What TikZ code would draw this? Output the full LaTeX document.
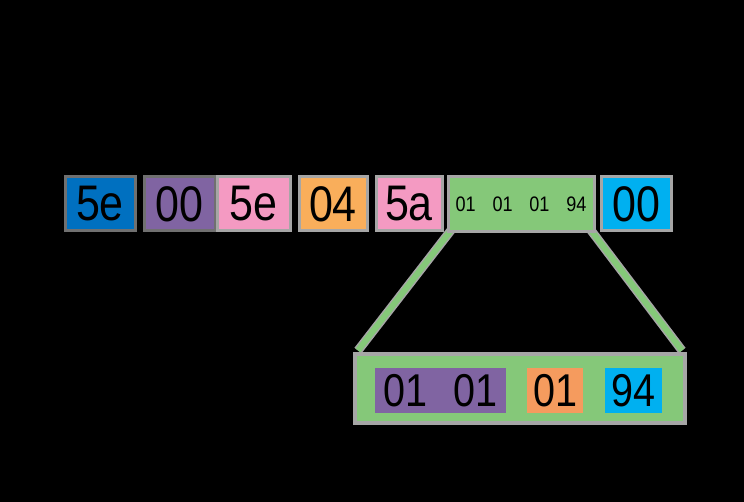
\documentclass[tikz,border=0pt]{standalone}
\usepackage{fontspec}
\setmainfont[FakeStretch=0.86]{Liberation Sans}
\usetikzlibrary{calc}
\definecolor{byteblue}{HTML}{0070C0}
\definecolor{bytepurple}{HTML}{8064A2}
\definecolor{bytepink}{HTML}{F49AC2}
\definecolor{byteorange}{HTML}{F9AE5B}
\definecolor{bytegreen}{HTML}{85C879}
\definecolor{bytecyan}{HTML}{00B0F0}
\definecolor{byteorangedark}{HTML}{F59B5E}
\definecolor{edgegray}{HTML}{A6A6A6}
\definecolor{edgedark}{HTML}{707070}
\begin{document}
\begin{tikzpicture}[x=1pt,y=-1pt,
    bytebox/.style={draw=edgegray,line width=3pt,inner sep=0pt,minimum height=54pt,
      font=\fontsize{50}{50}\selectfont},
    subbox/.style={inner sep=0pt,minimum height=45pt,font=\fontsize{46}{46}\selectfont},
    zoomline/.style={line width=9pt,edgegray},
    zoomfill/.style={line width=6pt,bytegreen}]
  \fill[black] (0,0) rectangle (744,502);
  \useasboundingbox (0,0) rectangle (744,502);
  % bottom frame
  \node[draw=edgegray,line width=4pt,fill=bytegreen,minimum width=330pt,minimum height=68pt,inner sep=0pt] (frame) at (520,388.5) {};
  \node[subbox,fill=bytepurple,minimum width=131pt] (s1) at (440.5,390.5) {01\hspace{0.55em}01};
  \node[subbox,fill=byteorangedark,minimum width=56pt] (s2) at (555,390.5) {01};
  \node[subbox,fill=bytecyan,minimum width=57pt] (s3) at (633.5,390.5) {94};
  % top row
  \coordinate (g1) at (452,229);
  \coordinate (g2) at (590,229);
  \draw[zoomline] (g1) -- ([xshift=5pt,yshift=2pt]frame.north west);
  \draw[zoomline] (g2) -- ([xshift=-5pt,yshift=2pt]frame.north east);
  \draw[zoomfill] (g1) -- ([xshift=5pt,yshift=2pt]frame.north west);
  \draw[zoomfill] (g2) -- ([xshift=-5pt,yshift=2pt]frame.north east);
  \node[bytebox,draw=edgedark,fill=byteblue,minimum width=70pt] (b1) at (100,204) {5e};
  \node[bytebox,draw=edgedark,fill=bytepurple,minimum width=71pt] (b2) at (179.5,204) {00};
  \node[bytebox,fill=bytepink,minimum width=73pt] (b3) at (253.5,204) {5e};
  \node[bytebox,fill=byteorange,minimum width=68pt] (b4) at (333,204) {04};
  \node[bytebox,fill=bytepink,minimum width=66pt] (b5) at (409,204) {5a};
  \node[bytebox,fill=bytegreen,minimum width=146pt,minimum height=55pt,
    font=\fontsize{21}{21}\selectfont] (b6) at (521,204.5) {01\hspace{0.8em}01\hspace{0.8em}01\hspace{0.8em}94};
  \node[bytebox,fill=bytecyan,minimum width=70pt] (b7) at (636,204) {00};
\end{tikzpicture}
\end{document}
